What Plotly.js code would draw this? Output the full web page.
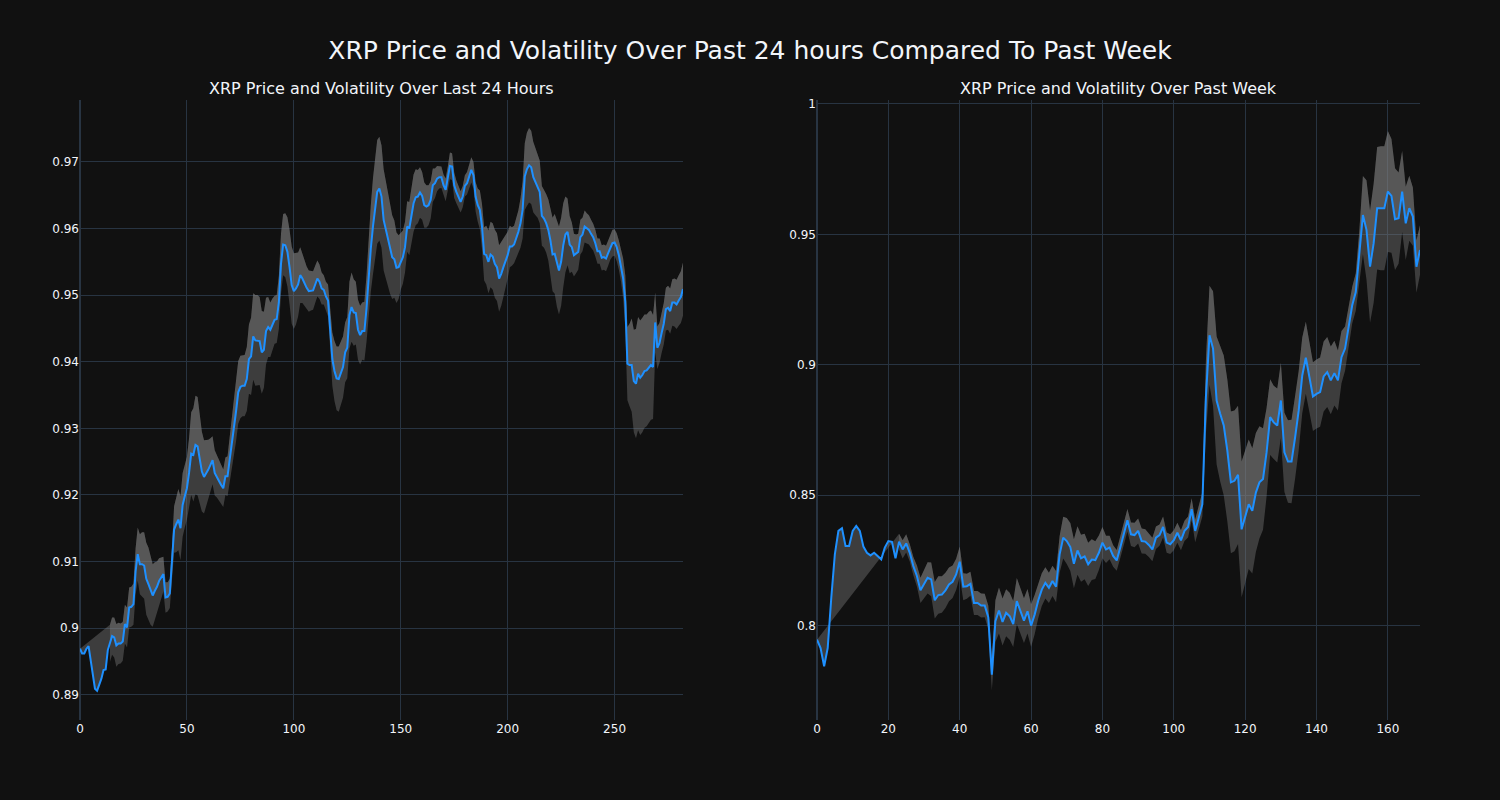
<!DOCTYPE html>
<html>
<head>
<meta charset="utf-8">
<script src="https://cdn.plot.ly/plotly-3.0.1.min.js"></script>
<style>html,body{margin:0;padding:0;background:#111111;}#chart{width:1500px;height:800px;}</style>
</head>
<body>
<div id="chart"></div>
<script>
// ---- Past 24 hours (left panel) ----
const dayPrice = [
0.8969,0.8962,0.8962,0.8969,0.8973,0.8949,0.8929,0.8909,0.8906,0.8914,
0.8924,0.8937,0.8938,0.8967,0.8977,0.8988,0.8986,0.8974,0.8977,0.8977,
0.8980,0.9006,0.9001,0.9031,0.9032,0.9036,0.9085,0.9111,0.9096,0.9096,
0.9094,0.9074,0.9066,0.9057,0.9049,0.9056,0.9062,0.9071,0.9076,0.9081,
0.9046,0.9047,0.9052,0.9095,0.9148,0.9156,0.9163,0.9150,0.9185,0.9198,
0.9210,0.9233,0.9262,0.9260,0.9275,0.9273,0.9253,0.9235,0.9227,0.9232,
0.9238,0.9245,0.9252,0.9233,0.9228,0.9221,0.9215,0.9210,0.9228,0.9228,
0.9253,0.9276,0.9301,0.9326,0.9354,0.9362,0.9364,0.9364,0.9374,0.9404,
0.9408,0.9438,0.9432,0.9432,0.9431,0.9414,0.9418,0.9446,0.9452,0.9448,
0.9457,0.9463,0.9464,0.9489,0.9547,0.9576,0.9575,0.9565,0.9542,0.9515,
0.9506,0.9510,0.9516,0.9530,0.9525,0.9517,0.9511,0.9506,0.9507,0.9507,
0.9516,0.9525,0.9520,0.9510,0.9508,0.9498,0.9492,0.9452,0.9404,0.9386,
0.9375,0.9374,0.9384,0.9392,0.9414,0.9421,0.9470,0.9482,0.9474,0.9473,
0.9448,0.9440,0.9446,0.9446,0.9480,0.9530,0.9570,0.9603,0.9630,0.9655,
0.9660,0.9648,0.9613,0.9598,0.9585,0.9570,0.9557,0.9554,0.9541,0.9542,
0.9551,0.9557,0.9572,0.9603,0.9600,0.9620,0.9638,0.9647,0.9648,0.9654,
0.9649,0.9635,0.9633,0.9635,0.9643,0.9665,0.9668,0.9675,0.9677,0.9677,
0.9665,0.9658,0.9675,0.9694,0.9693,0.9665,0.9655,0.9648,0.9640,0.9648,
0.9664,0.9668,0.9677,0.9688,0.9680,0.9648,0.9635,0.9628,0.9603,0.9562,
0.9560,0.9550,0.9561,0.9558,0.9547,0.9542,0.9525,0.9532,0.9542,0.9550,
0.9560,0.9573,0.9573,0.9576,0.9585,0.9595,0.9608,0.9628,0.9678,0.9689,
0.9695,0.9692,0.9677,0.9670,0.9664,0.9655,0.9619,0.9615,0.9608,0.9598,
0.9582,0.9561,0.9562,0.9547,0.9537,0.9550,0.9575,0.9591,0.9595,0.9576,
0.9572,0.9560,0.9562,0.9565,0.9587,0.9591,0.9603,0.9600,0.9598,0.9592,
0.9587,0.9578,0.9566,0.9566,0.9556,0.9557,0.9555,0.9563,0.9572,0.9578,
0.9579,0.9572,0.9560,0.9545,0.9525,0.9490,0.9397,0.9395,0.9395,0.9371,
0.9367,0.9382,0.9376,0.9380,0.9386,0.9387,0.9392,0.9395,0.9392,0.9459,
0.9421,0.9428,0.9443,0.9457,0.9479,0.9481,0.9476,0.9489,0.9489,0.9486,
0.9492,0.9497,0.9509
];
// volatility half-width of the band (null before the rolling window fills)
const dayVol = [
null,null,null,null,null,null,null,null,null,null,
null,null,null,null,0.0028,0.0028,0.0030,0.0032,0.0031,0.0030,
0.0029,0.0029,0.0030,0.0030,0.0030,0.0031,0.0035,0.0040,0.0045,0.0048,
0.0050,0.0054,0.0055,0.0052,0.0047,0.0043,0.0038,0.0034,0.0030,0.0026,
0.0023,0.0022,0.0022,0.0025,0.0035,0.0042,0.0046,0.0048,0.0048,0.0047,
0.0047,0.0052,0.0062,0.0070,0.0074,0.0074,0.0068,0.0060,0.0055,0.0050,
0.0045,0.0040,0.0036,0.0034,0.0032,0.0030,0.0030,0.0028,0.0028,0.0030,
0.0034,0.0038,0.0042,0.0045,0.0047,0.0047,0.0046,0.0046,0.0048,0.0052,
0.0058,0.0065,0.0068,0.0068,0.0066,0.0062,0.0057,0.0050,0.0045,0.0041,
0.0038,0.0036,0.0036,0.0040,0.0045,0.0046,0.0048,0.0052,0.0056,0.0058,
0.0057,0.0054,0.0048,0.0042,0.0037,0.0034,0.0032,0.0031,0.0030,0.0029,
0.0028,0.0027,0.0026,0.0024,0.0022,0.0022,0.0024,0.0032,0.0040,0.0045,
0.0048,0.0049,0.0048,0.0046,0.0045,0.0046,0.0050,0.0052,0.0050,0.0047,
0.0045,0.0044,0.0043,0.0044,0.0050,0.0058,0.0065,0.0072,0.0076,0.0078,
0.0078,0.0077,0.0076,0.0074,0.0072,0.0068,0.0063,0.0058,0.0053,0.0048,
0.0043,0.0040,0.0038,0.0038,0.0040,0.0042,0.0043,0.0042,0.0040,0.0038,
0.0036,0.0034,0.0032,0.0030,0.0028,0.0025,0.0022,0.0019,0.0017,0.0016,
0.0016,0.0017,0.0018,0.0020,0.0020,0.0019,0.0017,0.0016,0.0016,0.0016,
0.0016,0.0017,0.0018,0.0019,0.0020,0.0022,0.0025,0.0029,0.0034,0.0040,
0.0044,0.0047,0.0049,0.0050,0.0051,0.0051,0.0050,0.0048,0.0045,0.0040,
0.0035,0.0031,0.0029,0.0028,0.0029,0.0032,0.0037,0.0043,0.0050,0.0055,
0.0056,0.0055,0.0053,0.0050,0.0048,0.0047,0.0045,0.0044,0.0044,0.0046,
0.0050,0.0055,0.0060,0.0064,0.0066,0.0066,0.0063,0.0057,0.0050,0.0043,
0.0037,0.0032,0.0029,0.0027,0.0026,0.0025,0.0024,0.0023,0.0022,0.0021,
0.0020,0.0020,0.0019,0.0019,0.0019,0.0019,0.0019,0.0019,0.0019,0.0020,
0.0020,0.0021,0.0022,0.0025,0.0030,0.0040,0.0055,0.0062,0.0070,0.0077,
0.0082,0.0085,0.0086,0.0086,0.0085,0.0084,0.0083,0.0082,0.0078,0.0045,
0.0032,0.0030,0.0030,0.0031,0.0032,0.0033,0.0034,0.0035,0.0036,0.0037,
0.0038,0.0039,0.0040
];

// ---- Past week (right panel) ----
const weekPrice = [
0.7946,0.7914,0.7844,0.7914,0.8106,0.8273,0.8363,0.8373,0.8305,0.8305,
0.8363,0.8382,0.8363,0.8303,0.8279,0.8269,0.8279,0.8267,0.8254,0.8299,
0.8324,0.8321,0.8258,0.8322,0.8292,0.8315,0.8279,0.8228,0.8190,0.8135,
0.8160,0.8183,0.8177,0.8097,0.8117,0.8119,0.8135,0.8158,0.8168,0.8196,
0.8245,0.8149,0.8151,0.8160,0.8087,0.8087,0.8077,0.8077,0.8032,0.7812,
0.8017,0.8058,0.8014,0.8049,0.8036,0.8006,0.8094,0.8055,0.8019,0.8055,
0.8000,0.8042,0.8096,0.8138,0.8164,0.8145,0.8171,0.8149,0.8273,0.8337,
0.8324,0.8301,0.8237,0.8288,0.8258,0.8265,0.8235,0.8253,0.8251,0.8279,
0.8318,0.8292,0.8299,0.8267,0.8250,0.8299,0.8350,0.8404,0.8350,0.8347,
0.8363,0.8324,0.8322,0.8309,0.8292,0.8337,0.8347,0.8378,0.8318,0.8312,
0.8327,0.8356,0.8327,0.8363,0.8378,0.8446,0.8363,0.8414,0.8465,0.8876,
0.9113,0.9062,0.8863,0.8812,0.8767,0.8671,0.8549,0.8555,0.8578,0.8369,
0.8414,0.8465,0.8440,0.8510,0.8549,0.8562,0.8664,0.8799,0.8779,0.8767,
0.8863,0.8664,0.8629,0.8629,0.8722,0.8824,0.8959,0.9027,0.8953,0.8878,
0.8888,0.8895,0.8955,0.8972,0.8940,0.8968,0.8940,0.9029,0.9062,0.9151,
0.9228,0.9279,0.9414,0.9574,0.9517,0.9376,0.9465,0.9600,0.9600,0.9600,
0.9664,0.9647,0.9558,0.9562,0.9664,0.9542,0.9600,0.9568,0.9376,0.9440
];
const weekVol = [
null,null,null,null,null,null,null,null,null,null,
null,null,null,null,null,null,null,null,null,null,
null,null,null,0.0030,0.0035,0.0035,0.0033,0.0035,0.0040,0.0048,
0.0055,0.0060,0.0065,0.0070,0.0072,0.0070,0.0068,0.0065,0.0062,0.0060,
0.0058,0.0052,0.0048,0.0046,0.0046,0.0046,0.0046,0.0045,0.0045,0.0060,
0.0080,0.0088,0.0090,0.0090,0.0090,0.0088,0.0088,0.0087,0.0086,0.0085,
0.0082,0.0075,0.0068,0.0063,0.0060,0.0058,0.0058,0.0060,0.0070,0.0080,
0.0088,0.0092,0.0094,0.0093,0.0090,0.0087,0.0083,0.0078,0.0072,0.0066,
0.0060,0.0052,0.0045,0.0041,0.0040,0.0040,0.0041,0.0043,0.0045,0.0047,
0.0048,0.0048,0.0047,0.0046,0.0045,0.0043,0.0041,0.0040,0.0039,0.0038,
0.0038,0.0038,0.0038,0.0039,0.0040,0.0042,0.0044,0.0045,0.0047,0.0140,
0.0190,0.0220,0.0245,0.0260,0.0268,0.0272,0.0272,0.0270,0.0265,0.0260,
0.0255,0.0248,0.0240,0.0228,0.0215,0.0195,0.0170,0.0145,0.0140,0.0142,
0.0145,0.0152,0.0158,0.0160,0.0158,0.0152,0.0145,0.0138,0.0134,0.0132,
0.0132,0.0133,0.0134,0.0134,0.0130,0.0124,0.0115,0.0100,0.0085,0.0075,
0.0070,0.0072,0.0100,0.0150,0.0190,0.0215,0.0228,0.0235,0.0238,0.0238,
0.0232,0.0218,0.0195,0.0175,0.0155,0.0140,0.0125,0.0112,0.0100,0.0095
];

const titles = {
  main: 'XRP Price and Volatility Over Past 24 hours Compared To Past Week',
  left: 'XRP Price and Volatility Over Last 24 Hours',
  right: 'XRP Price and Volatility Over Past Week'
};

const FILL = 'rgba(128,128,128,0.4)';
const LINE = '#1E90FF';
const FONT = '"DejaVu Sans", Verdana, sans-serif';

function panel(price, vol, xa, ya) {
  const x = price.map((_, i) => i);
  const upper = price.map((p, i) => vol[i] == null ? null : p + vol[i]);
  const lower = price.map((p, i) => vol[i] == null ? null : p - vol[i]);
  return [
    {type:'scatter', mode:'lines', x:x, y:lower, xaxis:xa, yaxis:ya,
     line:{width:0, color:'rgba(0,0,0,0)'}, hoverinfo:'skip', showlegend:false},
    {type:'scatter', mode:'lines', x:x, y:upper, xaxis:xa, yaxis:ya, fill:'tonexty', fillcolor:FILL,
     line:{width:0, color:'rgba(0,0,0,0)'}, hoverinfo:'skip', showlegend:false},
    {type:'scatter', mode:'lines', x:x, y:price, xaxis:xa, yaxis:ya, fill:'tonexty', fillcolor:FILL,
     line:{width:2, color:LINE}, showlegend:false}
  ];
}

const data = [].concat(
  panel(dayPrice, dayVol, 'x', 'y'),
  panel(weekPrice, weekVol, 'x2', 'y2')
);

const axisCommon = {
  gridcolor:'#283442', zerolinecolor:'#283442', zerolinewidth:2,
  linecolor:'#506784', showline:false, ticks:'', tickfont:{size:12, family:FONT}
};

const layout = {
  width:1500, height:800,
  paper_bgcolor:'rgb(17,17,17)', plot_bgcolor:'rgb(17,17,17)',
  font:{family:FONT, color:'#f2f5fa', size:12},
  title:{text:titles.main, x:0.5, xanchor:'center', y:0.9375, yanchor:'middle',
         font:{size:25, color:'#f2f5fa', family:FONT}},
  margin:{l:80, r:80, t:100, b:80},
  showlegend:false,
  hovermode:'closest',
  xaxis:Object.assign({}, axisCommon, {domain:[0,0.45], anchor:'y', range:[0,282], dtick:50, tick0:0}),
  yaxis:Object.assign({}, axisCommon, {domain:[0,1], anchor:'x', range:[0.8862,0.9793], dtick:0.01, tick0:0.89}),
  xaxis2:Object.assign({}, axisCommon, {domain:[0.55,1], anchor:'y2', range:[0,169], dtick:20, tick0:0}),
  yaxis2:Object.assign({}, axisCommon, {domain:[0,1], anchor:'x2', range:[0.7638,1.0015], dtick:0.05, tick0:0.8}),
  annotations:[
    {text:titles.left, x:0.225, y:1, xref:'paper', yref:'paper', xanchor:'center', yanchor:'bottom', showarrow:false, font:{size:16, color:'#f2f5fa', family:FONT}},
    {text:titles.right, x:0.775, y:1, xref:'paper', yref:'paper', xanchor:'center', yanchor:'bottom', showarrow:false, font:{size:16, color:'#f2f5fa', family:FONT}}
  ]
};

Plotly.newPlot('chart', data, layout, {displayModeBar:false, staticPlot:true});
</script>
</body>
</html>
